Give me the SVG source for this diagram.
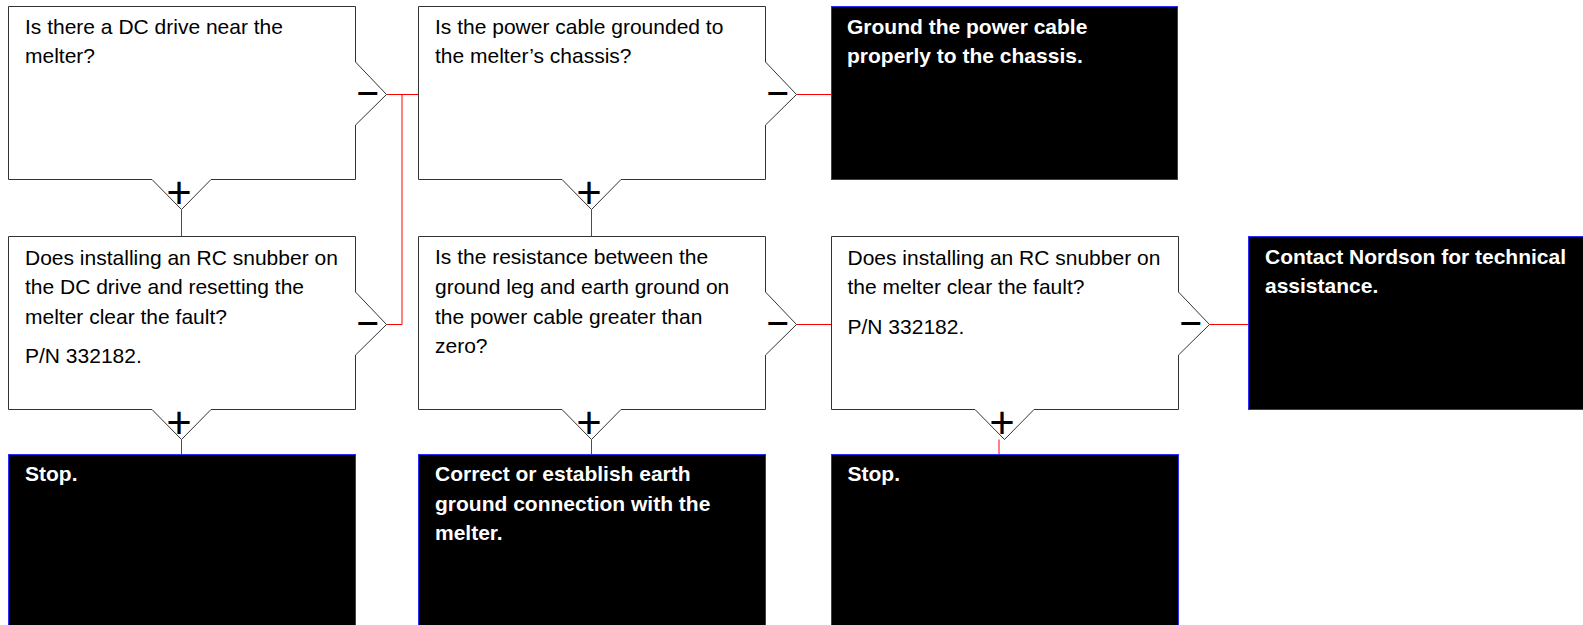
<svg xmlns="http://www.w3.org/2000/svg" width="1583" height="625" viewBox="0 0 1583 625">
<style>
.q{fill:#fff;stroke:#333;stroke-width:1}
.a{fill:#000;stroke:#2a2aff;stroke-width:1}
.t{font-family:"Liberation Sans",Arial,sans-serif;font-size:21px;fill:#000}
.w{font-family:"Liberation Sans",Arial,sans-serif;font-size:21px;font-weight:bold;fill:#fff}
.s{font-family:Lato,"Liberation Sans",sans-serif;font-weight:400;font-size:44px;fill:#000}
.c{fill:none;stroke:#f00;stroke-width:1}
</style>
<rect width="1583" height="625" fill="#fff"/>
<g id="connectors">
<path class="c" d="M181.5 209.5V236.5"/>
<path class="c" d="M386.5 94.5H418.5"/>
<path class="c" d="M386.5 324.5H402V94.5"/>
<path class="c" d="M796.5 94.5H831.5"/>
<path class="c" d="M591.5 209.5V236.5"/>
<path class="c" d="M796.5 324.5H831.5"/>
<path class="c" d="M591.5 439.5V454.5"/>
<path class="c" d="M181.5 439.5V454.5"/>
<path class="c" d="M1209.5 324.5H1248.5"/>
<path class="c" d="M999 439.5V454.5"/>
</g>
<g id="q1">
<path class="q" d="M8.5 6.5H355.5V62L386.5 94.5L355.5 125V179.5H211L181.5 209.5L152 179.5H8.5Z"/>
<text class="t" x="25" y="34">Is there a DC drive near the</text>
<text class="t" x="25" y="63">melter?</text>
<text class="s" x="355" y="109">−</text>
<text class="s" x="179" y="208" text-anchor="middle">+</text>
</g>
<g id="q2">
<path class="q" d="M418.5 6.5H765.5V62L796.5 94.5L765.5 125V179.5H621L591.5 209.5L562 179.5H418.5Z"/>
<text class="t" x="435" y="34">Is the power cable grounded to</text>
<text class="t" x="435" y="63">the melter’s chassis?</text>
<text class="s" x="765" y="109">−</text>
<text class="s" x="589" y="208" text-anchor="middle">+</text>
</g>
<g id="a1">
<rect class="a" x="831.5" y="6.5" width="346" height="173"/>
<text class="w" x="847" y="34">Ground the power cable</text>
<text class="w" x="847" y="63">properly to the chassis.</text>
</g>
<g id="q3">
<path class="q" d="M8.5 236.5H355.5V292L386.5 324.5L355.5 355V409.5H211L181.5 439.5L152 409.5H8.5Z"/>
<text class="t" x="25" y="264.5">Does installing an RC snubber on</text>
<text class="t" x="25" y="294">the DC drive and resetting the</text>
<text class="t" x="25" y="323.5">melter clear the fault?</text>
<text class="t" x="25" y="363">P/N 332182.</text>
<text class="s" x="355" y="339">−</text>
<text class="s" x="179" y="438" text-anchor="middle">+</text>
</g>
<g id="q4">
<path class="q" d="M418.5 236.5H765.5V292L796.5 324.5L765.5 355V409.5H621L591.5 439.5L562 409.5H418.5Z"/>
<text class="t" x="435" y="263.5">Is the resistance between the</text>
<text class="t" x="435" y="293.5">ground leg and earth ground on</text>
<text class="t" x="435" y="323.5">the power cable greater than</text>
<text class="t" x="435" y="353">zero?</text>
<text class="s" x="765" y="339">−</text>
<text class="s" x="589" y="438" text-anchor="middle">+</text>
</g>
<g id="q5">
<path class="q" d="M831.5 236.5H1178.5V292L1209.5 324.5L1178.5 355V409.5H1034L1004.5 439.5L975 409.5H831.5Z"/>
<text class="t" x="847.5" y="264.5">Does installing an RC snubber on</text>
<text class="t" x="847.5" y="294">the melter clear the fault?</text>
<text class="t" x="847.5" y="333.5">P/N 332182.</text>
<text class="s" x="1178" y="339">−</text>
<text class="s" x="1002" y="438" text-anchor="middle">+</text>
</g>
<g id="a2">
<rect class="a" x="1248.5" y="236.5" width="347" height="173"/>
<text class="w" x="1265" y="263.5">Contact Nordson for technical</text>
<text class="w" x="1265" y="293">assistance.</text>
</g>
<g id="a3">
<rect class="a" x="8.5" y="454.5" width="347" height="180"/>
<text class="w" x="25" y="481">Stop.</text>
</g>
<g id="a4">
<rect class="a" x="418.5" y="454.5" width="347" height="180"/>
<text class="w" x="435" y="481">Correct or establish earth</text>
<text class="w" x="435" y="511">ground connection with the</text>
<text class="w" x="435" y="540">melter.</text>
</g>
<g id="a5">
<rect class="a" x="831.5" y="454.5" width="347" height="180"/>
<text class="w" x="847.5" y="481">Stop.</text>
</g>
</svg>
